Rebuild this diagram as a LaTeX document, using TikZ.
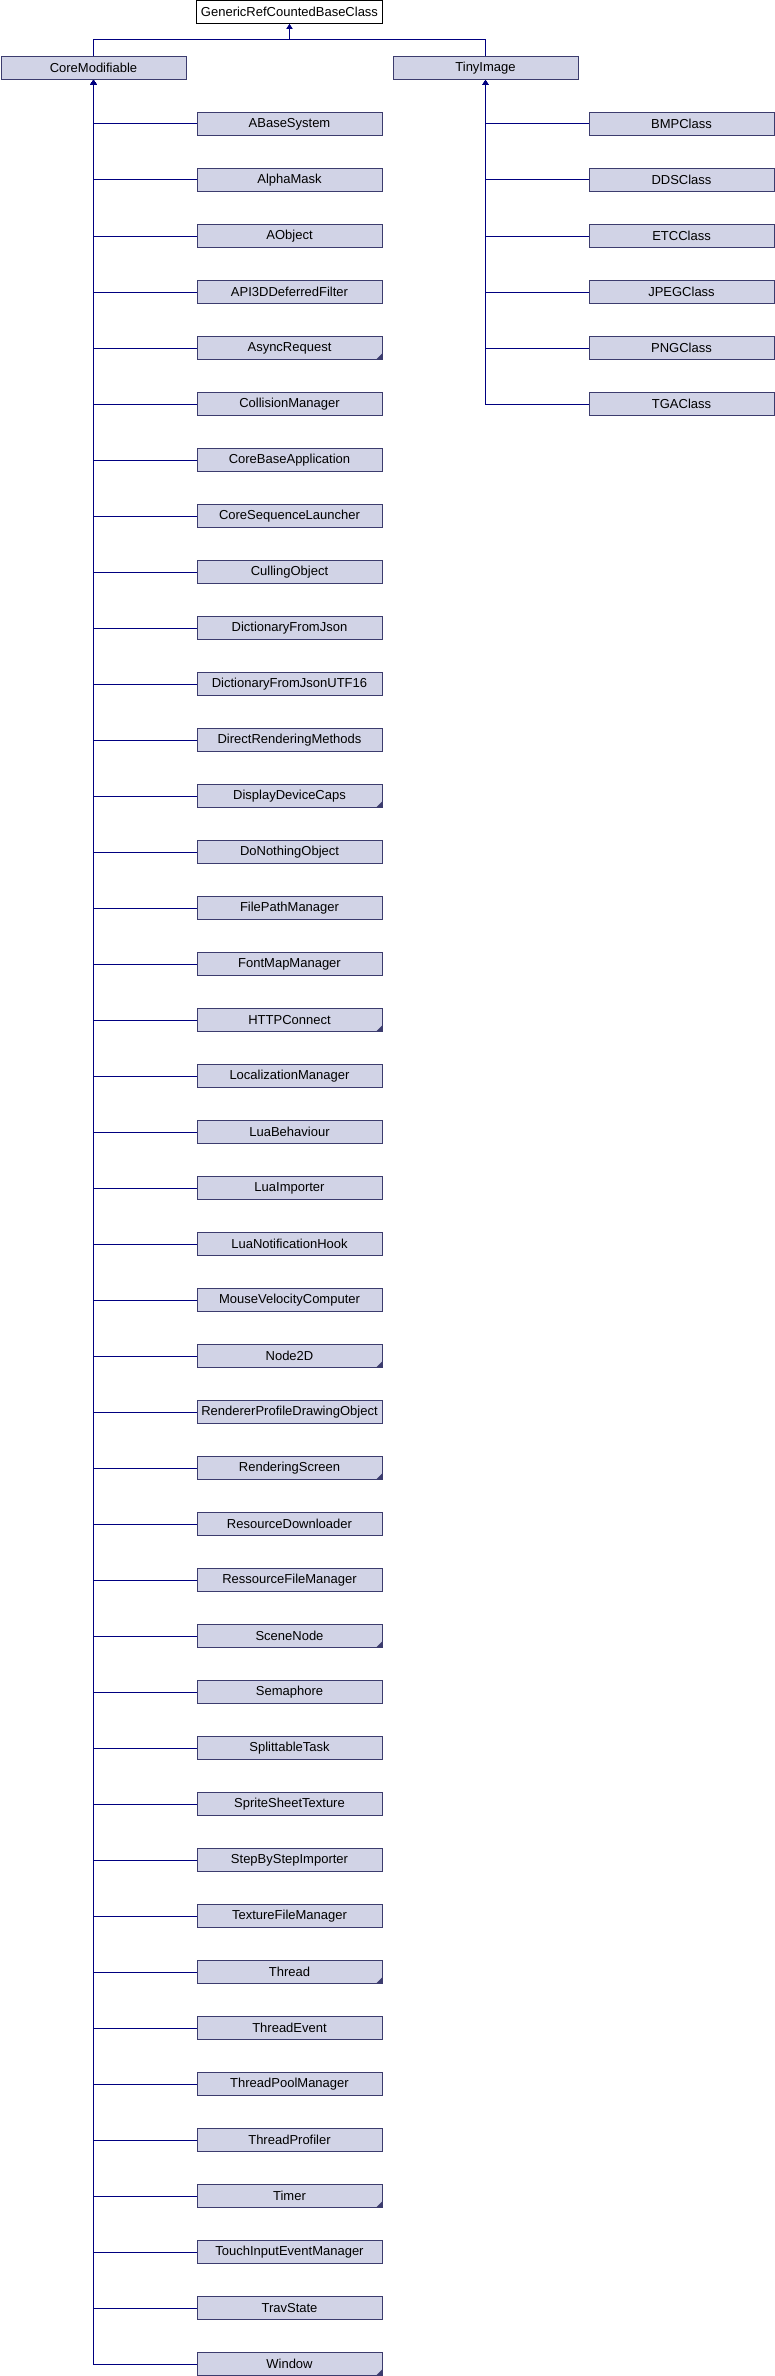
\documentclass[tikz,border=0pt]{standalone}
\usepackage{fontspec}
\setmainfont{Liberation Sans}
\usetikzlibrary{arrows.meta}
\definecolor{boxfill}{RGB}{209,211,230}
\definecolor{boxdraw}{RGB}{60,60,110}
\definecolor{linecol}{RGB}{0,0,128}
\tikzset{
  cls/.style={draw=boxdraw, fill=boxfill, line width=1pt, minimum width=185pt, minimum height=23pt,
    inner sep=0pt, anchor=north west, font=\fontsize{13}{15}\selectfont},
  root/.style={draw=black, fill=white, line width=1pt, minimum width=186pt, minimum height=23pt,
    inner sep=0pt, anchor=north west, font=\fontsize{13}{15}\selectfont},
  plain/.style={},
  marked/.style={path picture={\fill[boxdraw] (path picture bounding box.south east) -- ++(-6pt,0) -- ++(6pt,6pt) -- cycle;}},
  conn/.style={draw=linecol, line width=1pt, -{Triangle[width=6pt,length=5pt]}},
}
\begin{document}
\begin{tikzpicture}[x=1pt,y=1pt]
\useasboundingbox (0,0) rectangle (774,-2376);
\node[root] (g) at (196,0) {GenericRefCountedBaseClass};
\node[cls] (cm) at (0.5,-56) {CoreModifiable};
\node[cls] (ti) at (392.5,-56) {TinyImage};
\draw[conn] (cm.north) -- ++(0,16) -| (g.south);
\draw[conn] (ti.north) -- ++(0,16) -| (g.south);
\foreach \name/\st [count=\i from 0] in {ABaseSystem/plain,AlphaMask/plain,AObject/plain,API3DDeferredFilter/plain,AsyncRequest/marked,CollisionManager/plain,CoreBaseApplication/plain,CoreSequenceLauncher/plain,CullingObject/plain,DictionaryFromJson/plain,DictionaryFromJsonUTF16/plain,DirectRenderingMethods/plain,DisplayDeviceCaps/marked,DoNothingObject/plain,FilePathManager/plain,FontMapManager/plain,HTTPConnect/marked,LocalizationManager/plain,LuaBehaviour/plain,LuaImporter/plain,LuaNotificationHook/plain,MouseVelocityComputer/plain,Node2D/marked,RendererProfileDrawingObject/plain,RenderingScreen/marked,ResourceDownloader/plain,RessourceFileManager/plain,SceneNode/marked,Semaphore/plain,SplittableTask/plain,SpriteSheetTexture/plain,StepByStepImporter/plain,TextureFileManager/plain,Thread/marked,ThreadEvent/plain,ThreadPoolManager/plain,ThreadProfiler/plain,Timer/marked,TouchInputEventManager/plain,TravState/plain,Window/marked}
{
  \node[cls,\st] (c\i) at (196.5,{-112-56*\i}) {\name};
  \draw[conn] (c\i.west) -| (cm.south);
}
\foreach \name [count=\i from 0] in {BMPClass,DDSClass,ETCClass,JPEGClass,PNGClass,TGAClass}
{
  \node[cls] (t\i) at (588.5,{-112-56*\i}) {\name};
  \draw[conn] (t\i.west) -| (ti.south);
}
\end{tikzpicture}
\end{document}
